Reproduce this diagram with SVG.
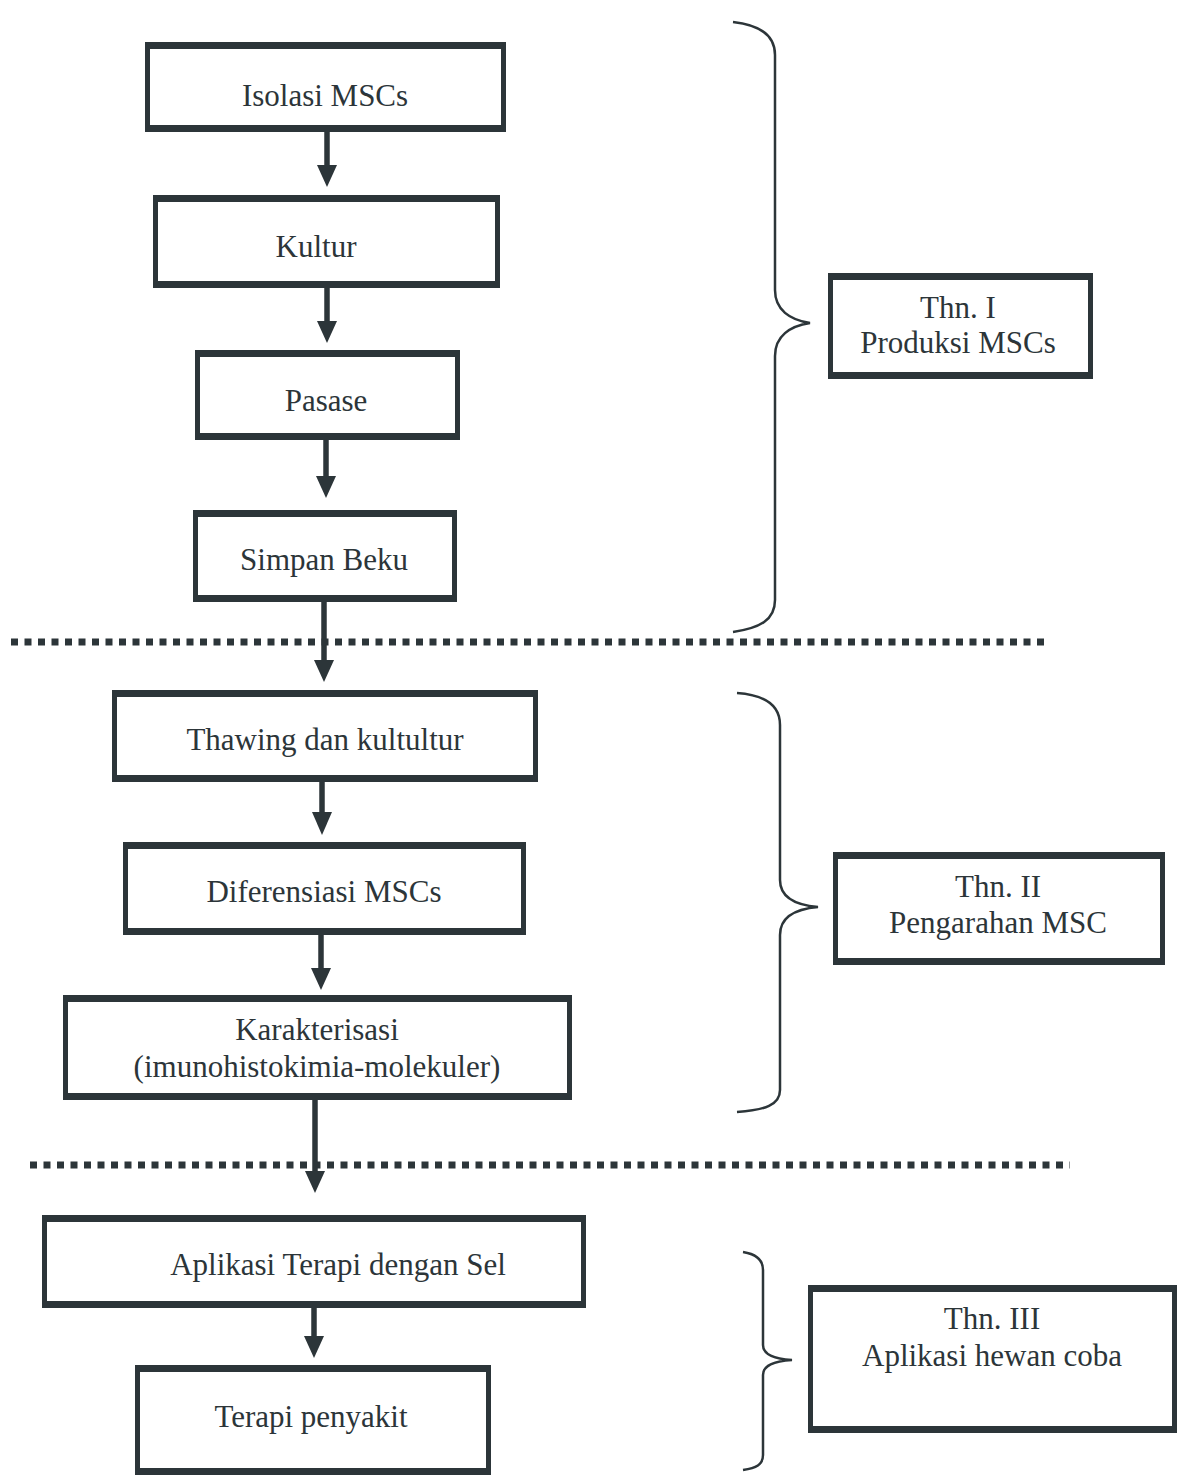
<svg xmlns="http://www.w3.org/2000/svg" width="1184" height="1479" viewBox="0 0 1184 1479">
<style>
.box{fill:#fff;stroke:#2c3539;stroke-width:5}
.bar{stroke:#2c3539;stroke-width:7}
.t{font-family:"Liberation Serif","Times New Roman",serif;font-size:31px;fill:#2c3539;text-anchor:middle}
.shaft{stroke:#2c3539;stroke-width:5.5}
.head{fill:#2c3539}
.brace{fill:none;stroke:#2c3539;stroke-width:2.5}
.dots{stroke:#2c3539;stroke-width:7;stroke-dasharray:7 6.5}
</style>
<rect width="1184" height="1479" fill="#fff"/>
<g id="separators">
<line class="dots" x1="11" y1="642" x2="1045" y2="642"/>
<line class="dots" x1="30" y1="1165" x2="1070" y2="1165"/>
</g>
<g id="connectors">
<line class="shaft" x1="327" y1="132" x2="327" y2="168"/><polygon class="head" points="317,165 337,165 327,187"/>
<line class="shaft" x1="327" y1="288" x2="327" y2="324"/><polygon class="head" points="317,321 337,321 327,343"/>
<line class="shaft" x1="326" y1="440" x2="326" y2="479"/><polygon class="head" points="316,476 336,476 326,498"/>
<line class="shaft" x1="324" y1="602" x2="324" y2="663"/><polygon class="head" points="314,660 334,660 324,682"/>
<line class="shaft" x1="322" y1="782" x2="322" y2="815"/><polygon class="head" points="312,812 332,812 322,835"/>
<line class="shaft" x1="321" y1="935" x2="321" y2="971"/><polygon class="head" points="311,968 331,968 321,990"/>
<line class="shaft" x1="315" y1="1100" x2="315" y2="1174"/><polygon class="head" points="305,1171 325,1171 315,1193"/>
<line class="shaft" x1="314" y1="1308" x2="314" y2="1339"/><polygon class="head" points="304,1336 324,1336 314,1358"/>
</g>
<g id="braces">
<path class="brace" d="M733,22 C760,25 775,35 775,55 L775,290 C775,310 790,320 810,323 C790,326 775,336 775,356 L775,600 C775,620 760,628 733,632"/>
<path class="brace" d="M737,693 C765,695 780,705 780,725 L780,880 C780,897 795,905 818,907 C795,909 780,917 780,935 L780,1090 C780,1105 765,1110 737,1112"/>
<path class="brace" d="M743,1252 C756,1254 763,1260 763,1270 L763,1345 C763,1355 775,1359 792,1360 C775,1361 763,1365 763,1375 L763,1455 C763,1465 756,1468 743,1470"/>
</g>
<g id="n1"><rect class="box" x="147.5" y="44.5" width="356" height="85"/><line class="bar" x1="145" y1="45.5" x2="506" y2="45.5"/><line class="bar" x1="145" y1="128.5" x2="506" y2="128.5"/><text class="t" x="325" y="106">Isolasi MSCs</text></g>
<g id="n2"><rect class="box" x="155.5" y="197.5" width="342" height="88"/><line class="bar" x1="153" y1="198.5" x2="500" y2="198.5"/><line class="bar" x1="153" y1="284.5" x2="500" y2="284.5"/><text class="t" x="316" y="257">Kultur</text></g>
<g id="n3"><rect class="box" x="197.5" y="352.5" width="260" height="85"/><line class="bar" x1="195" y1="353.5" x2="460" y2="353.5"/><line class="bar" x1="195" y1="436.5" x2="460" y2="436.5"/><text class="t" x="326" y="411">Pasase</text></g>
<g id="n4"><rect class="box" x="195.5" y="512.5" width="259" height="87"/><line class="bar" x1="193" y1="513.5" x2="457" y2="513.5"/><line class="bar" x1="193" y1="598.5" x2="457" y2="598.5"/><text class="t" x="324" y="570">Simpan Beku</text></g>
<g id="n5"><rect class="box" x="114.5" y="692.5" width="421" height="87"/><line class="bar" x1="112" y1="693.5" x2="538" y2="693.5"/><line class="bar" x1="112" y1="778.5" x2="538" y2="778.5"/><text class="t" x="325" y="750">Thawing dan kultultur</text></g>
<g id="n6"><rect class="box" x="125.5" y="844.5" width="398" height="88"/><line class="bar" x1="123" y1="845.5" x2="526" y2="845.5"/><line class="bar" x1="123" y1="931.5" x2="526" y2="931.5"/><text class="t" x="324" y="902">Diferensiasi MSCs</text></g>
<g id="n7"><rect class="box" x="65.5" y="997.5" width="504" height="100"/><line class="bar" x1="63" y1="998.5" x2="572" y2="998.5"/><line class="bar" x1="63" y1="1096.5" x2="572" y2="1096.5"/><text class="t" x="317" y="1040">Karakterisasi</text><text class="t" x="317" y="1077">(imunohistokimia-molekuler)</text></g>
<g id="n8"><rect class="box" x="44.5" y="1217.5" width="539" height="88"/><line class="bar" x1="42" y1="1218.5" x2="586" y2="1218.5"/><line class="bar" x1="42" y1="1304.5" x2="586" y2="1304.5"/><text class="t" x="338" y="1275">Aplikasi Terapi dengan Sel</text></g>
<g id="n9"><rect class="box" x="137.5" y="1367.5" width="351" height="105"/><line class="bar" x1="135" y1="1368.5" x2="491" y2="1368.5"/><line class="bar" x1="135" y1="1471.5" x2="491" y2="1471.5"/><text class="t" x="311" y="1427">Terapi penyakit</text></g>
<g id="y1"><rect class="box" x="830.5" y="275.5" width="260" height="101"/><line class="bar" x1="828" y1="276.5" x2="1093" y2="276.5"/><line class="bar" x1="828" y1="375.5" x2="1093" y2="375.5"/><text class="t" x="958" y="318">Thn. I</text><text class="t" x="958" y="353">Produksi MSCs</text></g>
<g id="y2"><rect class="box" x="835.5" y="854.5" width="327" height="108"/><line class="bar" x1="833" y1="855.5" x2="1165" y2="855.5"/><line class="bar" x1="833" y1="961.5" x2="1165" y2="961.5"/><text class="t" x="998" y="897">Thn. II</text><text class="t" x="998" y="933">Pengarahan MSC</text></g>
<g id="y3"><rect class="box" x="810.5" y="1287.5" width="364" height="143"/><line class="bar" x1="808" y1="1288.5" x2="1177" y2="1288.5"/><line class="bar" x1="808" y1="1429.5" x2="1177" y2="1429.5"/><text class="t" x="992" y="1329">Thn. III</text><text class="t" x="992" y="1366">Aplikasi hewan coba</text></g>
</svg>
